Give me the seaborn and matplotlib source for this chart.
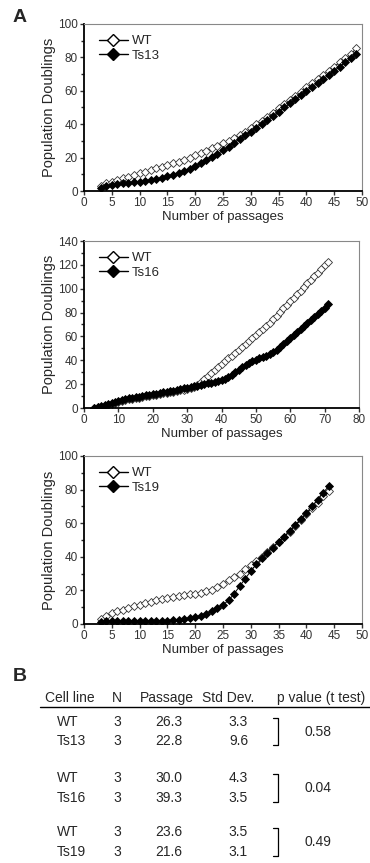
import numpy as np
import pandas as pd
import matplotlib
matplotlib.use("Agg")
import matplotlib.pyplot as plt
import seaborn as sns
from matplotlib.lines import Line2D
from matplotlib.ticker import MultipleLocator

# ---- data ----
passage_13 = list(range(3, 50))
wt_13 = [3, 4.5, 5.5, 6.5, 7.5, 8.5, 9.5, 10.5, 11.5, 12.5, 13.5, 14.5, 15.5, 16.5, 17.5,
         18.8, 20, 21.5, 22.8, 24, 25.5, 27, 28.5, 30, 31.5, 33.5, 35.5, 37.5, 40, 42,
         44.5, 47, 49.5, 52, 54.5, 57, 59.5, 62, 64.5, 67, 69.5, 72, 74.5, 77, 79.5, 82, 85.5]
ts13 = [1.5, 3, 3.5, 4, 4.5, 5, 5.3, 5.6, 6, 6.4, 7, 7.8, 8.7, 9.7, 10.8, 12, 13.3, 14.8,
        16.5, 18.3, 20.2, 22.2, 24.3, 26.5, 28.7, 31, 33.3, 35.6, 38, 40.3, 42.7, 45, 47.5,
        50, 52.5, 55, 57.5, 60, 62.3, 64.5, 67, 69.5, 72, 74.5, 77, 79.5, 82]

passage_16 = list(range(3, 72))
wt_16 = [0, 0.5, 1, 1.8, 2.6, 3.4, 4.2, 5, 5.8, 6.5, 7.2, 7.8, 8.3, 8.8, 9.3, 9.8, 10.3,
         10.8, 11.3, 11.8, 12.3, 12.8, 13.3, 13.8, 14.3, 14.8, 15.4, 16, 16.8, 17.8, 19,
         21.5, 24, 26.5, 29, 31.5, 34, 36.5, 39, 41.5, 44, 46.5, 49, 51.5, 54, 56.5, 59,
         61.5, 64, 66.5, 69, 71.5, 74.5, 77.5, 80.5, 83.5, 86.5, 89.5, 92.5, 95.5, 98.5,
         101.5, 104.5, 107.5, 110.5, 113.5, 116.5, 119.5, 122]
ts16 = [0, 0.8, 1.6, 2.5, 3.4, 4.3, 5.2, 6, 6.8, 7.4, 8, 8.5, 9, 9.5, 10, 10.5, 11,
        11.5, 12, 12.5, 13, 13.5, 14, 14.6, 15.2, 15.8, 16.4, 17, 17.6, 18.2, 18.8, 19.4,
        20, 20.6, 21.2, 21.8, 22.5, 23.5, 24.5, 26, 28, 30, 32, 34, 36, 38, 39.5, 40.5,
        41.5, 42.5, 44, 45.5, 47, 49, 51, 53.5, 56, 58.5, 61, 63.5, 66, 68.5, 71, 73.5,
        76, 78.5, 81, 84, 87]

passage_19 = list(range(3, 45))
wt_19 = [3, 5, 6.5, 7.5, 8.5, 9.5, 10.5, 11.5, 12.3, 13, 14, 14.8, 15.5, 16, 16.8, 17.3,
         17.7, 18, 18.5, 19.5, 20.5, 22, 24, 26, 28, 30, 32.5, 35, 37.5, 40, 43, 46, 49,
         52, 55, 58.5, 62, 65.5, 69, 72, 76, 79]
ts19 = [1, 1.5, 1.5, 1.5, 1.5, 1.5, 1.5, 1.5, 1.6, 1.7, 1.8, 1.9, 2, 2.3, 2.6, 3, 3.5, 4,
        5, 6, 7.5, 9.5, 11.5, 14, 18, 22.5, 27, 31.5, 35.5, 39, 42.5, 45.5, 49, 52, 55.5,
        59, 62.5, 66, 70, 74, 78, 82]

x_labels_13 = ["0", "5", "10", "15", "20", "25", "30", "45", "40", "45", "50"]

# table B
table_cols = ["Cell line", "N", "Passage", "Std Dev.", "p value (t test)"]
cell_lines = ["WT", "Ts13", "WT", "Ts16", "WT", "Ts19"]
n_vals = ["3", "3", "3", "3", "3", "3"]
passage_vals = ["26.3", "22.8", "30.0", "39.3", "23.6", "21.6"]
std_vals = ["3.3", "9.6", "4.3", "3.5", "3.5", "3.1"]
p_vals = ["0.58", "0.04", "0.49"]

sns.set_style("ticks")
plt.rcParams["font.family"] = ["Liberation Sans", "DejaVu Sans"]

W, H = 370, 863
fig = plt.figure(figsize=(W / 100, H / 100), dpi=100)


def px_axes(x0, y0, x1, y1):
    return fig.add_axes([x0 / W, 1 - y1 / H, (x1 - x0) / W, (y1 - y0) / H])


def draw_panel(ax, x, wt, ts, ts_name, xmax, ymax, ystep, xstep):
    df = pd.DataFrame({"passage": x + x, "pd": wt + ts,
                       "line": ["WT"] * len(x) + [ts_name] * len(x)})
    sns.lineplot(data=df[df.line == "WT"], x="passage", y="pd", ax=ax, color="black",
                 lw=0.7, marker="D", markersize=3.6, markerfacecolor="white",
                 markeredgecolor="#333333", markeredgewidth=0.6)
    sns.lineplot(data=df[df.line == ts_name], x="passage", y="pd", ax=ax, color="black",
                 lw=0.7, marker="D", markersize=3.6, markerfacecolor="black",
                 markeredgecolor="black", markeredgewidth=0.6)
    ax.set_xlim(0, xmax)
    ax.set_ylim(0, ymax)
    ax.xaxis.set_major_locator(MultipleLocator(xstep))
    ax.yaxis.set_major_locator(MultipleLocator(ystep))
    ax.yaxis.set_minor_locator(MultipleLocator(ystep / 2))
    ax.set_xlabel("Number of passages", fontsize=9.5, labelpad=1)
    ax.set_ylabel("Population Doublings", fontsize=10.5, labelpad=1)
    ax.tick_params(axis="both", labelsize=8.5, length=3, width=1, pad=1.5, colors="#333333")
    ax.tick_params(axis="y", which="minor", length=2, width=1)
    for s in ["left", "bottom"]:
        ax.spines[s].set_linewidth(1.3)
        ax.spines[s].set_color("black")
    for s in ["top", "right"]:
        ax.spines[s].set_linewidth(0.8)
        ax.spines[s].set_color("#888888")
    handles = [
        Line2D([], [], color="black", lw=1, marker="D", markersize=6,
               markerfacecolor="white", markeredgecolor="black"),
        Line2D([], [], color="black", lw=1, marker="D", markersize=6,
               markerfacecolor="black", markeredgecolor="black"),
    ]
    ax.legend(handles, ["WT", ts_name], loc="upper left", frameon=False, fontsize=9.5,
              handlelength=2.2, handletextpad=0.3, labelspacing=0.2,
              borderaxespad=0.3, bbox_to_anchor=(0.02, 0.99))


ax1 = px_axes(84, 24, 362, 191)
draw_panel(ax1, passage_13, wt_13, ts13, "Ts13", 50, 100, 20, 5)
ax1.set_xticks(range(0, 51, 5))
ax1.set_xticklabels(x_labels_13)

ax2 = px_axes(84, 241, 359, 408)
draw_panel(ax2, passage_16, wt_16, ts16, "Ts16", 80, 140, 20, 10)

ax3 = px_axes(84, 456, 362, 624)
draw_panel(ax3, passage_19, wt_19, ts19, "Ts19", 50, 100, 20, 5)

fig.text(13 / W, 1 - 18 / H, "A", fontsize=14, fontweight="bold", va="center")
fig.text(13 / W, 1 - 676 / H, "B", fontsize=14, fontweight="bold", va="center")

# ---- table B ----
def fy(y):
    return 1 - y / H

fs = 10
hdr_y = 698
fig.text(45 / W, fy(hdr_y), table_cols[0], fontsize=fs, va="center")
fig.text(117 / W, fy(hdr_y), table_cols[1], fontsize=fs, va="center", ha="center")
fig.text(167 / W, fy(hdr_y), table_cols[2], fontsize=fs, va="center", ha="center")
fig.text(228 / W, fy(hdr_y), table_cols[3], fontsize=fs, va="center", ha="center")
fig.text(277 / W, fy(hdr_y), table_cols[4], fontsize=fs, va="center")
fig.add_artist(Line2D([40 / W, 1.0], [fy(707), fy(707)], color="black", lw=1))

row_y = [722, 741, 778, 798, 832, 852]
for i, y in enumerate(row_y):
    fig.text(57 / W, fy(y), cell_lines[i], fontsize=fs, va="center")
    fig.text(117 / W, fy(y), n_vals[i], fontsize=fs, va="center", ha="center")
    fig.text(169 / W, fy(y), passage_vals[i], fontsize=fs, va="center", ha="center")
    fig.text(248 / W, fy(y), std_vals[i], fontsize=fs, va="center", ha="right")

for k in range(3):
    y0, y1 = row_y[2 * k] - 4, row_y[2 * k + 1] + 4
    xb = 278
    fig.add_artist(Line2D([(xb - 5) / W, xb / W, xb / W, (xb - 5) / W],
                          [fy(y0), fy(y0), fy(y1), fy(y1)], color="black", lw=0.9))
    fig.text(318 / W, fy((y0 + y1) / 2), p_vals[k], fontsize=fs, va="center", ha="center")

fig.savefig("out.png", dpi=100)
